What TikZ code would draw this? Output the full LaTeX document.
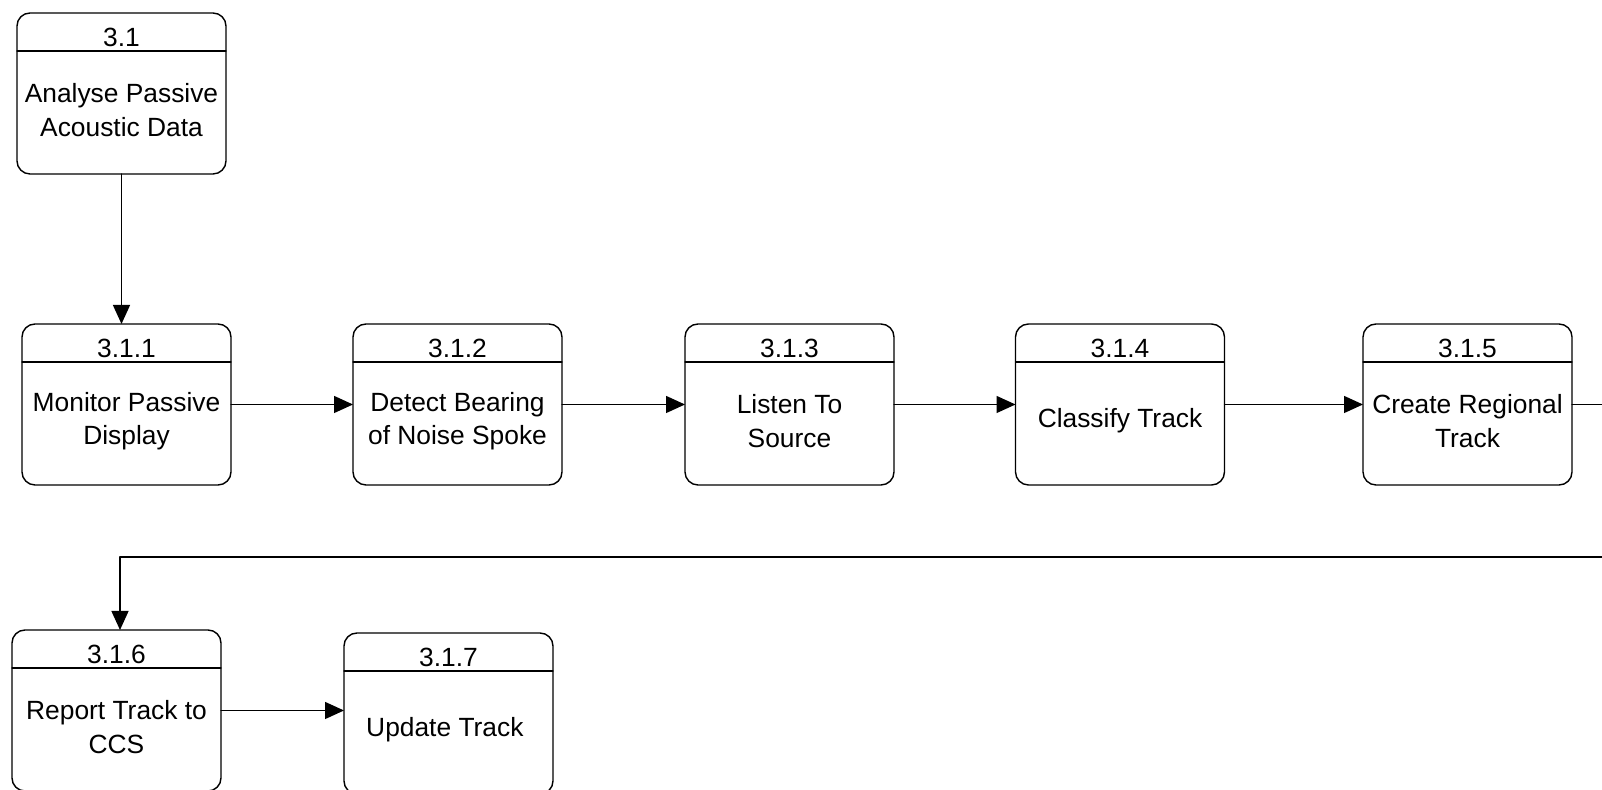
\documentclass[tikz,border=0pt]{standalone}
\usepackage{fontspec}
\setmainfont{Liberation Sans}
\usetikzlibrary{arrows.meta,calc}

\begin{document}
\begin{tikzpicture}[
    x=1cm,
    y=1cm,
    font=\fontsize{15}{19}\selectfont,
    line cap=round,
    line join=round,
    process/.style={
      draw=black,
      line width=0.8pt,
      rounded corners=0.26cm,
      minimum width=4.18cm,
      minimum height=3.22cm,
      outer sep=0pt,
      inner sep=0pt
    },
    divider/.style={
      draw=black,
      line width=0.7pt
    },
    procnum/.style={
      anchor=base,
      inner sep=0pt
    },
    proctext/.style={
      align=center,
      inner sep=0pt
    },
    flow/.style={
      draw=black,
      line width=0.8pt,
      -{Triangle[length=0.38cm,width=0.34cm]}
    }
]

\useasboundingbox (0,0) rectangle (32.04,15.8);
\clip (0,0) rectangle (32.04,15.8);

% Process boxes: number above the divider, task name below it.
\foreach \nm/\x/\y/\num/\txt in {
  p31/2.43/13.93/{3.1}/{Analyse Passive\\Acoustic Data},
  p311/2.53/7.71/{3.1.1}/{Monitor Passive\\Display},
  p312/9.15/7.71/{3.1.2}/{Detect Bearing\\of Noise Spoke},
  p313/15.79/7.71/{3.1.3}/{Listen To\\Source},
  p314/22.40/7.71/{3.1.4}/{Classify Track},
  p315/29.35/7.71/{3.1.5}/{Create Regional\\Track},
  p316/2.33/1.59/{3.1.6}/{Report Track to\\CCS},
  p317/8.97/1.53/{3.1.7}/{Update Track}
} {
  \node[process] (\nm) at (\x,\y) {};
  \draw[divider] ($(\nm.north west)+(0,-0.76)$) -- ($(\nm.north east)+(0,-0.76)$);
  \node[procnum] (\nm-num) at ($(\nm.north)+(0,-0.67)$) {\num};
  \node[proctext] (\nm-txt) at ($(\nm.center)+(0,-0.33)$) {\txt};
}

% Flow between the tasks.
\draw[flow] (p31.south) -- (p31.south |- p311.north);
\draw[flow] (p311.east) -- (p312.west);
\draw[flow] (p312.east) -- (p313.west);
\draw[flow] (p313.east) -- (p314.west);
\draw[flow] (p314.east) -- (p315.west);

% Return line runs past the right edge and back to the next row.
\coordinate (turn) at (32.3,4.66);
\draw[flow] (p315.east) -| (turn) -| ([xshift=0.07cm]p316.north);

\draw[flow] (p316.east) -- (p317.west |- p316.east);

\end{tikzpicture}
\end{document}
